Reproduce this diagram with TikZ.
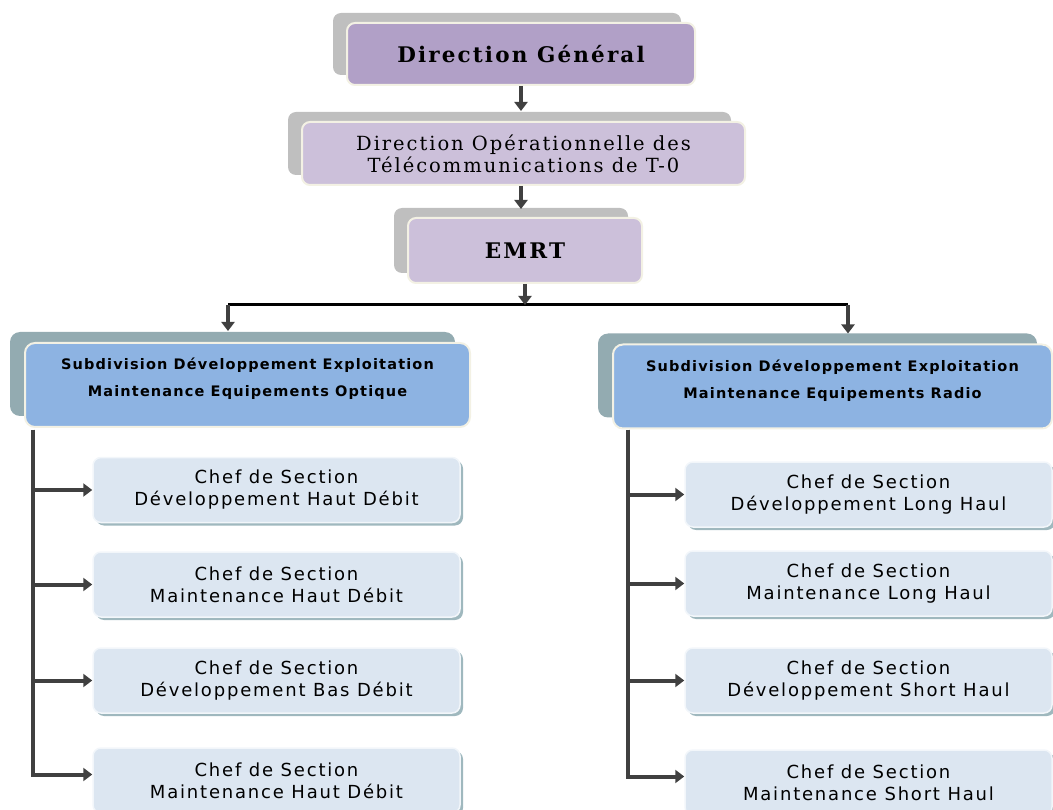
\documentclass[tikz,border=0pt]{standalone}
\usepackage{fontspec}
\usetikzlibrary{arrows.meta,shadows,calc}
\newfontfamily\serifdj{DejaVu Serif}[LetterSpace=10]
\newfontfamily\serifdjb{DejaVu Serif}[LetterSpace=10]
\newfontfamily\sansdj{DejaVu Sans}[LetterSpace=10]
\newfontfamily\subdj{DejaVu Sans}[LetterSpace=8]
\definecolor{dgfill}{HTML}{B1A0C7}
\definecolor{lilac}{HTML}{CCC0DA}
\definecolor{greysh}{HTML}{BFBFBF}
\definecolor{cream}{HTML}{F3F1E4}
\definecolor{subfill}{HTML}{8DB3E2}
\definecolor{subsh}{HTML}{93ABB1}
\definecolor{chfill}{HTML}{DCE6F1}
\definecolor{chsh}{HTML}{9FB8BE}
\definecolor{chedge}{HTML}{F2F6FA}
\definecolor{arrc}{HTML}{404040}
\tikzset{
  topbox/.style={draw=cream, line width=2pt, rounded corners=8pt,
    drop shadow={shadow xshift=-14pt, shadow yshift=10pt, fill=greysh, opacity=1},
    align=center, inner sep=0pt},
  subbox/.style={draw=cream, line width=2pt, rounded corners=10pt, fill=subfill,
    drop shadow={shadow xshift=-15pt, shadow yshift=11pt, fill=subsh, opacity=1},
    inner sep=0pt, minimum height=84pt},
  subtext/.style={font={\fontsize{14.5}{27}\selectfont\subdj\bfseries}, align=center,
    inner sep=0pt, yshift=6pt},
  chbox/.style={draw=chedge, line width=1.5pt, rounded corners=8pt, fill=chfill,
    drop shadow={shadow xshift=3pt, shadow yshift=-3pt, fill=chsh, opacity=1},
    align=center, inner sep=0pt, minimum width=367pt, minimum height=65pt,
    font={\fontsize{18}{22}\selectfont\sansdj}},
  conn/.style={draw=arrc, line width=4pt, -{Triangle[width=13pt,length=9pt]}},
  busline/.style={draw=black, line width=3pt}
}
\begin{document}
\begin{tikzpicture}[x=1pt,y=-1pt]
\useasboundingbox (0,0) rectangle (1053,810);
% top boxes
\node[topbox, fill=dgfill, minimum width=348pt, minimum height=62pt,
  font={\fontsize{21.5}{24}\selectfont\serifdjb\bfseries}] (dg) at (521,54) {Direction Général};
\node[topbox, fill=lilac, minimum width=443pt, minimum height=63pt,
  font={\fontsize{19.5}{22}\selectfont\serifdj}] (op) at (523.5,153.5)
  {Direction Opérationnelle des\\Télécommunications de T-0};
\node[topbox, fill=lilac, minimum width=234pt, minimum height=65pt,
  font={\fontsize{21.5}{24}\selectfont\serifdjb\bfseries}] (emrt) at (525,250.5) {EMRT};
% subdivisions
\node[subbox, minimum width=445pt,
  label={[subtext]center:{Subdivision Développement Exploitation\\Maintenance Equipements Optique}}]
  (subL) at (247.5,385) {};
\node[subbox, minimum width=439pt,
  label={[subtext]center:{Subdivision Développement Exploitation\\Maintenance Equipements Radio}}]
  (subR) at (832.5,386.5) {};
% children left
\node[chbox] (cL1) at (276.5,490) {Chef de Section\\Développement Haut Débit};
\node[chbox] (cL2) at (276.5,584.5) {Chef de Section\\Maintenance Haut Débit};
\node[chbox] (cL3) at (276.5,680.5) {Chef de Section\\Développement Bas Débit};
\node[chbox] (cL4) at (276.5,780.5) {Chef de Section\\Maintenance Haut Débit};
% children right
\node[chbox] (cR1) at (868.5,494.5) {Chef de Section\\Développement Long Haul};
\node[chbox] (cR2) at (868.5,583.5) {Chef de Section\\Maintenance Long Haul};
\node[chbox] (cR3) at (868.5,680.5) {Chef de Section\\Développement Short Haul};
\node[chbox] (cR4) at (868.5,782.5) {Chef de Section\\Maintenance Short Haul};
% connectors top
\draw[conn] (dg.south) -- ($(dg.south |- op.north)+(0,-10)$);
\draw[conn] (op.south -| dg.south) -- ($(dg.south |- emrt.north)+(0,-8)$);
\coordinate (bus) at (525,305);
\coordinate (busL) at (228,305);
\coordinate (busR) at (848,305);
\draw[busline] (busL) -- (busR);
\draw[conn] (emrt.south) -- (bus);
\draw[conn] (busL) -- ($(busL |- subL.north)+(0,-11)$);
\draw[conn] (busR) -- ($(busR |- subR.north)+(0,-10)$);
% trunks
\coordinate (tL) at (33,430);
\coordinate (tR) at (628,430);
\draw[conn] (tL) |- (cL1.west);
\draw[conn] (tL) |- (cL2.west);
\draw[conn] (tL) |- (cL3.west);
\draw[conn] (tL) |- ($(cL4.west)+(0,-6)$);
\draw[conn] (tR) |- (cR1.west);
\draw[conn] (tR) |- (cR2.west);
\draw[conn] (tR) |- (cR3.west);
\draw[conn] (tR) |- ($(cR4.west)+(0,-6)$);
\end{tikzpicture}
\end{document}
